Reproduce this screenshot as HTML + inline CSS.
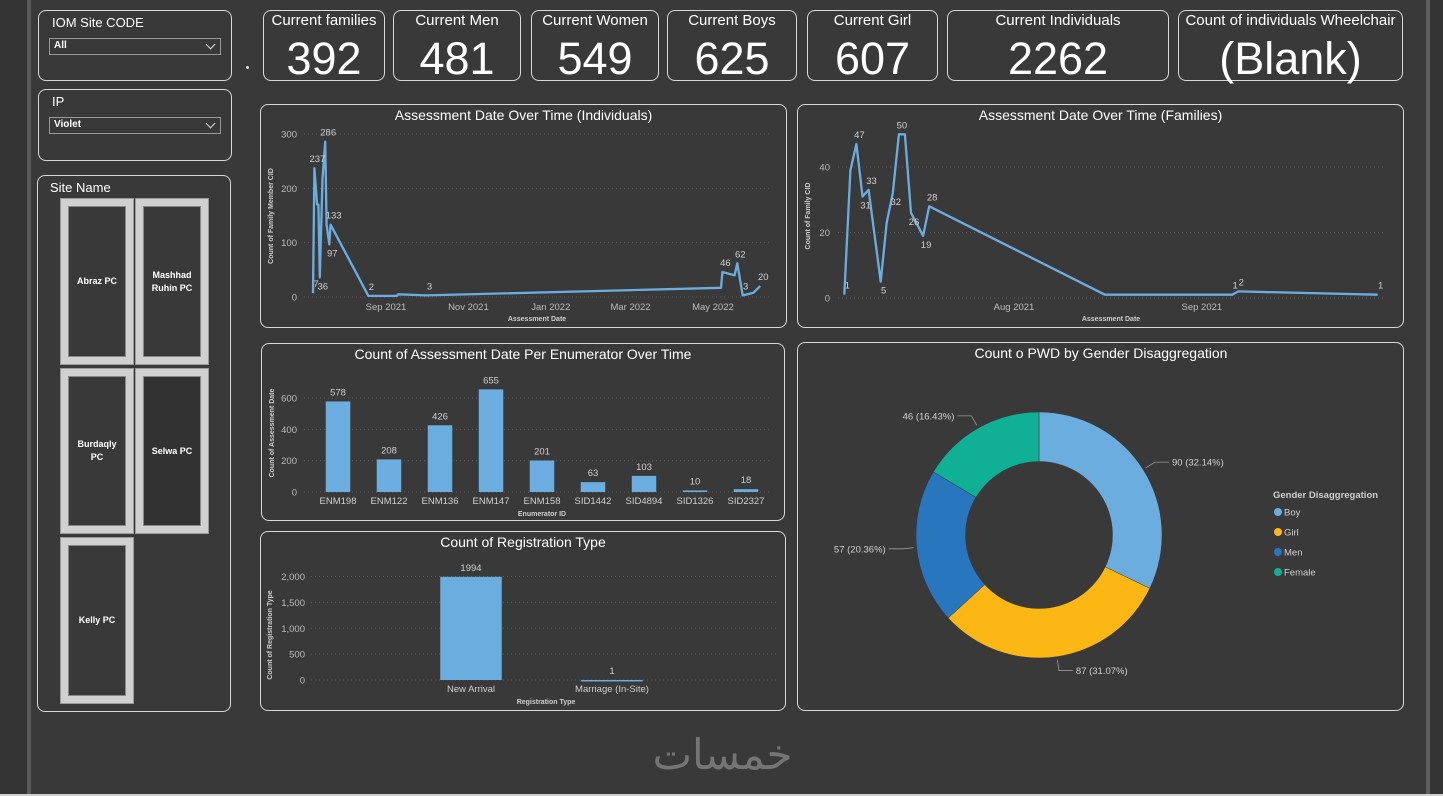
<!DOCTYPE html>
<html><head><meta charset="utf-8">
<style>
html,body{margin:0;padding:0;background:#393939;}
body{width:1443px;height:796px;overflow:hidden;position:relative;font-family:"Liberation Sans",Arial,sans-serif;color:#fff;}
.abs{position:absolute;box-sizing:border-box;}
.panel{position:absolute;box-sizing:border-box;border:1.5px solid #d8d8d8;border-radius:8px;}
.kpi .t{position:absolute;left:0;right:0;top:1px;text-align:center;font-size:15px;}
.kpi .v{position:absolute;left:0;right:0;top:24px;text-align:center;font-size:45px;line-height:48px;}
.dd{position:absolute;left:10px;width:172px;height:17px;border:1.5px solid #9a9a9a;box-sizing:border-box;font-size:10px;font-weight:bold;padding-left:4px;line-height:14px;}
.dd i{position:absolute;right:6px;top:2px;width:6px;height:6px;border-right:1.3px solid #ddd;border-bottom:1.3px solid #ddd;transform:rotate(45deg);}
.tile{position:absolute;box-sizing:border-box;background:#d0d0d0;border:1px solid #9a9a9a;}
.tile div{position:absolute;left:7px;top:7px;right:7px;bottom:7px;background:#393939;border:1px solid #888;display:flex;align-items:center;justify-content:center;text-align:center;font-size:9px;font-weight:bold;line-height:13px;}
</style></head><body>
<div class="abs" style="left:0;top:0;width:28px;height:796px;background:#343434;"></div>
<div class="abs" style="left:27px;top:0;width:4px;height:796px;background:#5a5a5a;"></div>
<div class="abs" style="left:1426px;top:0;width:4px;height:796px;background:#5e5e5e;"></div>
<div class="abs" style="left:1430px;top:0;width:13px;height:796px;background:#343434;"></div>
<div class="abs" style="left:0;top:794px;width:1443px;height:2px;background:#d0d0d0;"></div>

<div class="panel" style="left:38px;top:10px;width:194px;height:71px;">
  <div class="abs" style="left:13px;top:4px;font-size:13px;">IOM Site CODE</div>
  <div class="dd" style="top:27px;">All<i></i></div>
</div>
<div class="panel" style="left:38px;top:89px;width:194px;height:72px;">
  <div class="abs" style="left:13px;top:4px;font-size:13px;">IP</div>
  <div class="dd" style="top:27px;">Violet<i></i></div>
</div>
<div class="panel" style="left:37px;top:175px;width:194px;height:537px;">
  <div class="abs" style="left:12px;top:4px;font-size:13px;">Site Name</div>
</div>
<div class="tile" style="left:60px;top:198px;width:74px;height:167px;"><div>Abraz PC</div></div>
<div class="tile" style="left:135px;top:198px;width:74px;height:167px;"><div>Mashhad<br>Ruhin PC</div></div>
<div class="tile" style="left:60px;top:368px;width:74px;height:166px;"><div>Burdaqly<br>PC</div></div>
<div class="tile" style="left:135px;top:368px;width:74px;height:166px;"><div style="background:#323232">Selwa PC</div></div>
<div class="tile" style="left:60px;top:537px;width:74px;height:167px;"><div>Kelly PC</div></div>

<div class="abs" style="left:246px;top:66px;width:3px;height:3px;background:#ddd;border-radius:50%;"></div>

<div class="panel kpi" style="left:263px;top:10px;width:122px;height:71px;"><div class="t">Current families</div><div class="v">392</div></div>
<div class="panel kpi" style="left:393px;top:10px;width:128px;height:71px;"><div class="t">Current Men</div><div class="v">481</div></div>
<div class="panel kpi" style="left:531px;top:10px;width:128px;height:71px;"><div class="t">Current Women</div><div class="v">549</div></div>
<div class="panel kpi" style="left:667px;top:10px;width:130px;height:71px;"><div class="t">Current Boys</div><div class="v">625</div></div>
<div class="panel kpi" style="left:807px;top:10px;width:131px;height:71px;"><div class="t">Current Girl</div><div class="v">607</div></div>
<div class="panel kpi" style="left:947px;top:10px;width:222px;height:71px;"><div class="t">Current Individuals</div><div class="v">2262</div></div>
<div class="panel kpi" style="left:1178px;top:10px;width:225px;height:71px;"><div class="t">Count of individuals Wheelchair</div><div class="v">(Blank)</div></div>

<div class="panel" style="left:260px;top:104px;width:527px;height:224px;"></div>
<div class="panel" style="left:797px;top:104px;width:607px;height:224px;"></div>
<div class="panel" style="left:261px;top:343px;width:524px;height:178px;"></div>
<div class="panel" style="left:260px;top:531px;width:526px;height:180px;"></div>
<div class="panel" style="left:797px;top:342px;width:607px;height:369px;"></div>

<div class="abs" style="left:630px;top:730px;width:185px;text-align:center;font-family:'DejaVu Sans',sans-serif;font-size:42px;font-weight:normal;color:#757575;">خمسات</div>

<svg id="svg" width="1443" height="796" style="position:absolute;left:0;top:0;"></svg>

<script>
// ---------- Individuals line chart data ----------
const indDates = ["2021-07-09","2021-07-10","2021-07-12","2021-07-13","2021-07-14","2021-07-16","2021-07-18","2021-07-19","2021-07-21","2021-07-22","2021-08-19","2021-09-09","2021-09-10","2021-10-01","2022-05-07","2022-05-08","2022-05-17","2022-05-19","2022-05-23","2022-05-31","2022-06-05"];
const indValues = [7,237,170,170,36,218,286,133,97,133,2,2,5,3,17,46,40,62,3,8,20];
const indShowLabel = [1,1,0,0,1,0,1,0,1,1,1,0,0,1,0,1,0,1,1,0,1];
const indYTicks = [0,100,200,300];
const indXTicks = ["2021-09-01","2021-11-01","2022-01-01","2022-03-01","2022-05-01"];
const indXTickLabels = ["Sep 2021","Nov 2021","Jan 2022","Mar 2022","May 2022"];

// ---------- Families line chart data ----------
const famDates = ["2021-07-04","2021-07-05","2021-07-06","2021-07-07","2021-07-08","2021-07-10","2021-07-11","2021-07-12","2021-07-13","2021-07-14","2021-07-15","2021-07-17","2021-07-18","2021-08-16","2021-09-06","2021-09-07","2021-09-30"];
const famValues = [1,39,47,31,33,5,23,32,50,50,26,19,28,1,1,2,1];
const famShowLabel = [1,0,1,1,1,1,0,1,1,0,1,1,1,0,1,1,1];
const famYTicks = [0,20,40];
const famXTicks = ["2021-08-01","2021-09-01"];
const famXTickLabels = ["Aug 2021","Sep 2021"];

// ---------- Enumerator bar chart ----------
const enumIds = ["ENM198","ENM122","ENM136","ENM147","ENM158","SID1442","SID4894","SID1326","SID2327"];
const enumCounts = [578,208,426,655,201,63,103,10,18];
const enumYTicks = [0,200,400,600];

// ---------- Registration type ----------
const regTypes = ["New Arrival","Marriage (In-Site)"];
const regCounts = [1994,1];
const regYTicks = [0,500,1000,1500,2000];
const regYTickLabels = ["0","500","1,000","1,500","2,000"];

// ---------- Donut ----------
const pwdCats = ["Boy","Girl","Men","Female"];
const pwdValues = [90,87,57,46];
const pwdColors = ["#6cade0","#fcb714","#2876bd","#0fb093"];

const NS="http://www.w3.org/2000/svg";
const svg=document.getElementById('svg');
function mk(tag,attrs,parent){const e=document.createElementNS(NS,tag);for(const k in attrs)e.setAttribute(k,attrs[k]);(parent||svg).appendChild(e);return e;}
function txt(x,y,s,size,fill,anchor,extra,parent){const t=mk('text',Object.assign({x:x,y:y,'font-size':size,fill:fill,'text-anchor':anchor||'middle','font-family':'Liberation Sans, Arial, sans-serif'},extra||{}),parent);t.textContent=s;return t;}
const DAY=86400000;
function d(s){return Date.parse(s+"T00:00:00Z");}

let t;
t=txt(523.5,120,"Assessment Date Over Time (Individuals)",14,"#fff");


t=txt(1100.5,120,"Assessment Date Over Time (Families)",14,"#fff");


t=txt(523,359,"Count of Assessment Date Per Enumerator Over Time",14,"#fff");


t=txt(523,547,"Count of Registration Type",14,"#fff");


t=txt(1101,358,"Count o PWD by Gender Disaggregation",14,"#fff");



function lineChart(opt){
  const g=mk('g',{});
  
  
  const y=v=>opt.y0-(v/opt.ymaxVal)*(opt.y0-opt.ytop);
  const x=s=>opt.xRef+(d(s)-d(opt.refDate))/DAY*opt.pxPerDay;
  opt.yTicks.forEach(v=>{
    const l=mk('line',{x1:opt.gx1,x2:opt.gx2,y1:y(v),y2:y(v),stroke:'#5e5e5e','stroke-dasharray':'1,3'},g);
    
    
    const tl=txt(opt.tickX,y(v)+3.5,String(v),9.5,'#bdbdbd','end',{},g);
    
    
  });
  opt.xTicks.forEach((s,i)=>{
    const tl=txt(x(s),opt.xTickY,opt.xTickLabels[i],9.5,'#bdbdbd','middle',{},g);
    
    
  });
  const pts=opt.dates.map((s,i)=>x(s).toFixed(1)+','+y(opt.values[i]).toFixed(1)).join(' ');
  const pl=mk('polyline',{points:pts,fill:'none',stroke:'#6cade0','stroke-width':2.3,'stroke-linejoin':'round'},g);
  
  
  opt.dates.forEach((s,i)=>{
    if(!opt.show[i])return;
    const v=opt.values[i];
    const above = (i===0||opt.values[i-1]<=v)&&(i===opt.values.length-1||opt.values[i+1]<=v) || v<opt.ymaxVal*0.1;
    const ly= v<opt.ymaxVal*0.1 ? y(v)-6 : (above? y(v)-6 : y(v)+12);
    const tl=txt(x(s)+3,ly,String(v),9.5,'#d0d0d0','middle',{},g);
    
    
  });
  const xt=txt(opt.xTitleX,opt.xTitleY,opt.xTitle,7,'#cfcfcf','middle',{'font-weight':'bold'},g);
  
  
  const yt=txt(0,0,opt.yTitle,7,'#cfcfcf','middle',{'font-weight':'bold',transform:'translate('+opt.yTitleX+','+opt.yTitleY+') rotate(-90)'},g);
  
  
}

lineChart({name:'individuals-line-chart',dates:indDates,values:indValues,show:indShowLabel,yTicks:indYTicks,xTicks:indXTicks,xTickLabels:indXTickLabels,
  y0:297,ytop:134,ymaxVal:300,xRef:386,refDate:"2021-09-01",pxPerDay:1.351,gx1:304,gx2:770,tickX:297,xTickY:310,
  xTitle:"Assessment Date",xTitleX:537,xTitleY:321,yTitle:"Count of Family Member CID",yTitleX:273,yTitleY:216});
lineChart({name:'families-line-chart',dates:famDates,values:famValues,show:famShowLabel,yTicks:famYTicks,xTicks:famXTicks,xTickLabels:famXTickLabels,
  y0:298,ytop:167,ymaxVal:40,xRef:1014,refDate:"2021-08-01",pxPerDay:6.06,gx1:838,gx2:1385,tickX:830,xTickY:310,
  xTitle:"Assessment Date",xTitleX:1111,xTitleY:321,yTitle:"Count of Family CID",yTitleX:810,yTitleY:216});

function barChart(opt){
  const g=mk('g',{});
  
  
  const y=v=>opt.y0-v*opt.pxPerUnit;
  opt.yTicks.forEach((v,i)=>{
    const l=mk('line',{x1:opt.gx1,x2:opt.gx2,y1:y(v),y2:y(v),stroke:'#5e5e5e','stroke-dasharray':'1,3'},g);
    
    
    const tl=txt(opt.tickX,y(v)+3.5,opt.yTickLabels?opt.yTickLabels[i]:String(v),9.5,'#bdbdbd','end',{},g);
    
    
  });
  opt.cats.forEach((c,i)=>{
    const cx=opt.x0+i*opt.step;
    const v=opt.values[i];
    const r=mk('rect',{x:cx-opt.bw/2,y:y(v),width:opt.bw,height:Math.max(1.5,v*opt.pxPerUnit),fill:'#6cade0'},g);
    
    
    const vl=txt(cx,y(v)-6,String(v),9.5,'#d0d0d0','middle',{},g);
    
    
    const cl=txt(cx,opt.y0+12,c,9.5,'#cfcfcf','middle',{},g);
    
    
  });
  const xt=txt(opt.xTitleX,opt.xTitleY,opt.xTitle,7,'#cfcfcf','middle',{'font-weight':'bold'},g);
  
  
  const yt=txt(0,0,opt.yTitle,7,'#cfcfcf','middle',{'font-weight':'bold',transform:'translate('+opt.yTitleX+','+opt.yTitleY+') rotate(-90)'},g);
  
  
}
barChart({name:'enumerator-bar-chart',cats:enumIds,values:enumCounts,yTicks:enumYTicks,y0:492,pxPerUnit:94/600,x0:338,step:51,bw:24.5,
  gx1:304,gx2:770,tickX:297,xTitle:"Enumerator ID",xTitleX:542,xTitleY:516,yTitle:"Count of Assessment Date",yTitleX:274,yTitleY:433});
barChart({name:'registration-bar-chart',cats:regTypes,values:regCounts,yTicks:regYTicks,yTickLabels:regYTickLabels,y0:680,pxPerUnit:103.5/2000,x0:471,step:141,bw:61.5,
  gx1:311,gx2:778,tickX:305,xTitle:"Registration Type",xTitleX:546,xTitleY:704,yTitle:"Count of Registration Type",yTitleX:272,yTitleY:635});

(function(){
  const g=mk('g',{});
  
  
  const cx=1039,cy=535,R=123,r=73.5;
  const total=pwdValues.reduce((a,b)=>a+b,0);
  let a0=-Math.PI/2;
  pwdValues.forEach((v,i)=>{
    const a1=a0+v/total*2*Math.PI;
    const large=(a1-a0)>Math.PI?1:0;
    const p=(a,rr)=>[cx+rr*Math.cos(a),cy+rr*Math.sin(a)];
    const [x0,y0]=p(a0,R),[x1,y1]=p(a1,R),[x2,y2]=p(a1,r),[x3,y3]=p(a0,r);
    const path=mk('path',{d:`M${x0},${y0} A${R},${R} 0 ${large} 1 ${x1},${y1} L${x2},${y2} A${r},${r} 0 ${large} 0 ${x3},${y3} Z`,fill:pwdColors[i],stroke:'#393939','stroke-width':0.5},g);
    
    
    const am=(a0+a1)/2;
    const [lx,ly]=p(am,R+3);
    const [ex,ey]=p(am,R+14);
    const right=Math.cos(am)>=0;
    const hx=ex+(right?14:-14);
    const ln=mk('polyline',{points:`${lx},${ly} ${ex},${ey} ${hx},${ey}`,fill:'none',stroke:'#9a9a9a','stroke-width':0.8},g);
    
    
    const pct=(v/total*100).toFixed(2);
    const tl=txt(hx+(right?3:-3),ey+3.5,v+" ("+pct+"%)",9.5,'#d0d0d0',right?'start':'end',{},g);
    
    
    a0=a1;
  });
  const lt=txt(1273,498,"Gender Disaggregation",9.5,'#cfcfcf','start',{'font-weight':'bold'},g);
  
  
  pwdCats.forEach((c,i)=>{
    const yy=512+i*20;
    const dot=mk('circle',{cx:1278,cy:yy,r:4,fill:pwdColors[i]},g);
    
    
    const e=txt(1284,yy+3.5,c,9.5,'#cfcfcf','start',{},g);
    
    
  });
})();
</script>
</body></html>
